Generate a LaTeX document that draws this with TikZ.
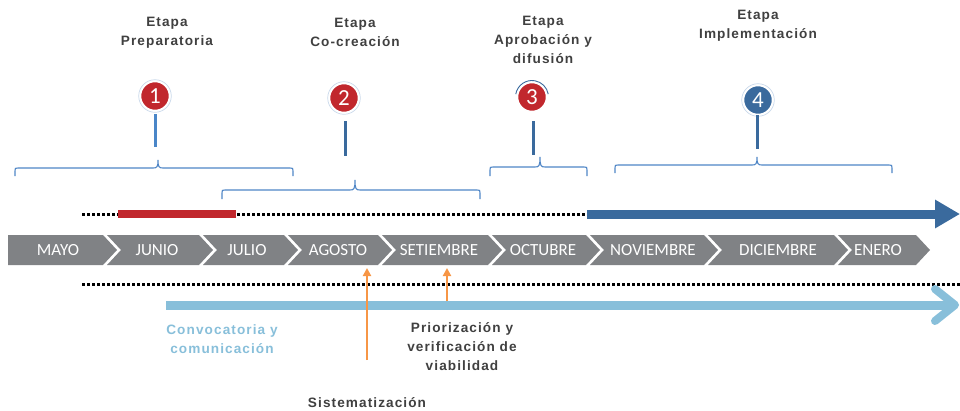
\documentclass[tikz,border=0pt]{standalone}
\usepackage{fontspec}
\setmainfont{Liberation Sans}
\newfontfamily\monthfont{Carlito}
\newfontfamily\numfont{Carlito}
\newfontfamily\lblfont[LetterSpace=8]{Liberation Sans}
\usetikzlibrary{arrows.meta}
\definecolor{cred}{HTML}{C1272D}
\definecolor{cdblue}{HTML}{3A6A9D}
\definecolor{cstem}{HTML}{4A86C8}
\definecolor{cbrace}{HTML}{4F86C6}
\definecolor{clblue}{HTML}{88BFDA}
\definecolor{corange}{HTML}{F79646}
\definecolor{cgray}{HTML}{808285}
\definecolor{ctext}{HTML}{404040}
\definecolor{cring}{HTML}{C9D8EA}
\newcommand\mybrace[6]{\draw[brc] (#1,#4+#5) -- (#1,#4+3) .. controls (#1,#4) .. (#1+3,#4) -- (#2-5,#4) .. controls (#2-1,#4) and (#2,#4-1) .. (#2,#4-#6) .. controls (#2,#4-1) and (#2+1,#4) .. (#2+5,#4) -- (#3-3,#4) .. controls (#3,#4) .. (#3,#4+3) -- (#3,#4+#5);}
\begin{document}
\begin{tikzpicture}[x=1pt,y=-1pt,
  chev/.style={fill=cgray},
  month/.style={text=white,font=\monthfont\fontsize{17}{18}\selectfont,inner sep=0pt},
  lbl/.style={text=ctext,font=\lblfont\bfseries\fontsize{13.6}{19}\selectfont,align=center,inner sep=0pt},
  circ/.style={circle,minimum size=29pt,inner sep=0pt,draw=white,line width=1.5pt,text=white,font=\numfont\fontsize{23}{23}\selectfont},
  ring/.style={cring,line width=0.7pt},
  stem/.style={line width=3pt},
  brc/.style={cbrace,line width=1.1pt},
  dots/.style={black,line width=3pt,dash pattern=on 3pt off 2pt},
  orarrow/.style={corange,line width=2.5pt,-{Triangle[length=8pt,width=8pt]}}
]
\useasboundingbox (0,0) rectangle (960,410);

% top labels
\node[lbl] (l1) at (167,32.5) {Etapa\\Preparatoria};
\node[lbl] (l2) at (355,32.5) {Etapa\\Co-creación};
\node[lbl] (l3) at (543,40) {Etapa\\Aprobación y\\difusión};
\node[lbl] (l4) at (758,25.5) {Etapa\\Implementación};

% numbered circles
\node[circ,fill=cred] (c1) at (155,96) {1};
\node[circ,fill=cred] (c2) at (344,98) {2};
\node[circ,fill=cred] (c3) at (532,97) {3};
\node[circ,fill=cdblue] (c4) at (758,100) {4};
\draw[ring] (c1.center) circle (16.3);
\draw[ring] (c2.center) circle (16.3);
\draw[ring] (c4.center) circle (16.3);
\draw[cdblue,line width=0.9pt] (c3.center) ++(190:16.5) arc (190:350:16.5);

% stems
\coordinate (s1a) at (155,114); \coordinate (s1b) at (155,147);
\coordinate (s2a) at (345,121); \coordinate (s2b) at (345,156);
\coordinate (s3a) at (533,121); \coordinate (s3b) at (533,155);
\coordinate (s4a) at (757,115); \coordinate (s4b) at (757,149);
\draw[stem,cstem] (s1a) -- (s1b);
\draw[stem,cdblue] (s2a) -- (s2b);
\draw[stem,cdblue] (s3a) -- (s3b);
\draw[stem,cdblue] (s4a) -- (s4b);

% braces
\mybrace{15}{158}{293}{168}{8}{8}
\mybrace{222}{355}{480}{190}{9}{10}
\mybrace{490}{540}{587}{167}{9}{10}
\mybrace{615}{757}{892}{165}{8}{8}

% top dotted line, red bar, blue arrow
\coordinate (d1a) at (82,214); \coordinate (d1b) at (587,214);
\coordinate (r1) at (118,214); \coordinate (r2) at (236,214);
\coordinate (b2) at (960,214);
\draw[dots] (d1a) -- (d1b);
\draw[cred,line width=8pt] (r1) -- (r2);
\draw[cdblue,line width=9pt,-{Triangle[length=25pt,width=27pt]}] (d1b) -- (b2);

% month chevrons
\fill[chev] (8,235) -- (103,235) -- (117,250) -- (103,265) -- (8,265) -- cycle;
\node[month] (m0) at (58,250) {MAYO};
\foreach \L/\R/\t/\c [count=\i] in {107/199/JUNIO/157, 203/284/JULIO/247, 288/378/AGOSTO/338, 382/488/SETIEMBRE/439, 492/586/OCTUBRE/543, 590/704/NOVIEMBRE/653, 708/834/DICIEMBRE/778, 838/916/ENERO/878}{
  \fill[chev] (\L,235) -- (\R,235) -- (\R+14,250) -- (\R,265) -- (\L,265) -- (\L+14,250) -- cycle;
  \node[month] (m\i) at (\c,250) {\t};
}

% bottom dotted line
\coordinate (d2a) at (82,284); \coordinate (d2b) at (962,284);
\draw[dots] (d2a) -- (d2b);

% light blue arrow
\coordinate (cv1) at (166,305); \coordinate (cv2) at (955,305);
\coordinate (h1) at (935,289); \coordinate (h2) at (935,321);
\draw[clblue,line width=9pt] (cv1) -- (cv2);
\draw[clblue,line width=8pt,line cap=round,line join=round] (h1) -- (cv2) -- (h2);

% orange arrows
\coordinate (o1s) at (367,360); \coordinate (o1e) at (367,268);
\coordinate (o2s) at (447,301); \coordinate (o2e) at (447,268);
\draw[orarrow] (o1s) -- (o1e);
\draw[orarrow] (o2s) -- (o2e);

% bottom labels
\node[lbl,text=clblue] (conv) at (222,339.5) {Convocatoria y\\comunicación};
\node[lbl] (prio) at (462,346.5) {Priorización y\\verificación de\\viabilidad};
\node[lbl] (sist) at (367,403) {Sistematización};
\end{tikzpicture}
\end{document}
